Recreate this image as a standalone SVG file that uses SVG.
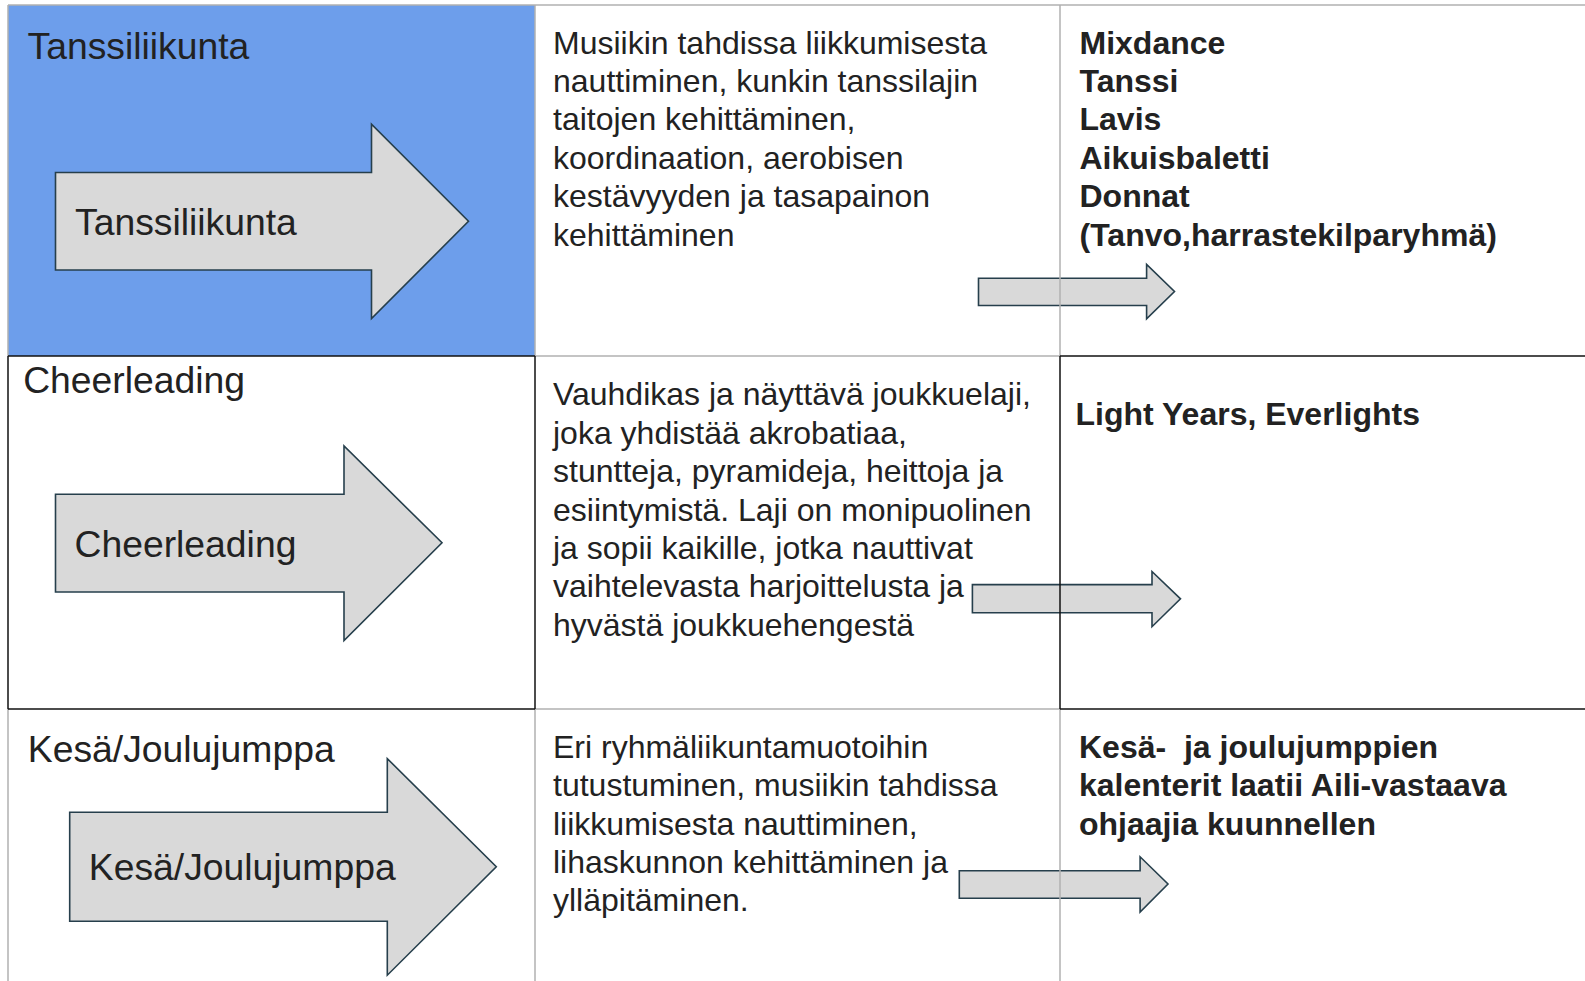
<svg xmlns="http://www.w3.org/2000/svg" width="1585" height="981" viewBox="0 0 1585 981">
<style>
  .txt { font-family: "Liberation Sans", Arial, sans-serif; font-size: 32px; fill: #222; }
  .bold { font-weight: bold; }
  .head { font-family: "Liberation Sans", Arial, sans-serif; font-size: 37.3px; fill: #222; }
  .arrow { fill: #d9d9d9; stroke: #263f4c; stroke-width: 1.6; stroke-linejoin: miter; }
  .gray { stroke: #b0b0b0; stroke-width: 1.5; fill: none; }
  .dark { stroke: #111; stroke-width: 1.5; fill: none; }
</style>
<rect width="1585" height="981" fill="#ffffff"/>
<rect x="8" y="5" width="527" height="351" fill="#6d9eeb"/>

<g id="small-arrows">
  <polygon id="sarrow1" class="arrow" points="978.5,278.3 1146.6,278.3 1146.6,264.5 1174.5,291.5 1146.6,318.8 1146.6,305.5 978.5,305.5"/>
  <polygon id="sarrow2" class="arrow" points="972.4,584.6 1152,584.6 1152,571.5 1180.5,598.8 1152,626.7 1152,612.8 972.4,612.8"/>
  <polygon id="sarrow3" class="arrow" points="959.3,870.8 1140.1,870.8 1140.1,856.8 1168,884 1140.1,912 1140.1,898.3 959.3,898.3"/>
</g>

<g id="connectors">
  <line class="gray" x1="8" y1="5" x2="1585" y2="5"/>
  <line class="gray" x1="8" y1="5" x2="8" y2="356"/>
  <line class="gray" x1="535" y1="5" x2="535" y2="356"/>
  <line class="gray" x1="1060" y1="5" x2="1060" y2="356"/>
  <line class="gray" x1="535" y1="356" x2="1060" y2="356"/>
  <line class="gray" x1="535" y1="709" x2="1060" y2="709"/>
  <line class="gray" x1="8" y1="709" x2="8" y2="981"/>
  <line class="gray" x1="535" y1="709" x2="535" y2="981"/>
  <line class="gray" x1="1060" y1="709" x2="1060" y2="981"/>
  <line class="dark" x1="8" y1="356" x2="535" y2="356"/>
  <line class="dark" x1="1060" y1="356" x2="1585" y2="356"/>
  <line class="dark" x1="8" y1="709" x2="535" y2="709"/>
  <line class="dark" x1="1060" y1="709" x2="1585" y2="709"/>
  <line class="dark" x1="8" y1="356" x2="8" y2="709"/>
  <line class="dark" x1="535" y1="356" x2="535" y2="709"/>
  <line class="dark" x1="1060" y1="356" x2="1060" y2="709"/>
</g>

<g id="row1-title">
  <text class="head" x="27.5" y="59">Tanssiliikunta</text>
</g>
<g id="row1-arrow">
  <polygon class="arrow" points="55.5,172.5 371.5,172.5 371.5,124.3 468.5,221.3 371.5,318.6 371.5,270 55.5,270"/>
  <text class="head" x="75" y="235">Tanssiliikunta</text>
</g>
<g id="row1-desc">
  <text class="txt" x="553">
    <tspan x="553" y="53.6">Musiikin tahdissa liikkumisesta</tspan>
    <tspan x="553" y="92">nauttiminen, kunkin tanssilajin</tspan>
    <tspan x="553" y="130.4">taitojen kehittäminen,</tspan>
    <tspan x="553" y="168.8">koordinaation, aerobisen</tspan>
    <tspan x="553" y="207.2">kestävyyden ja tasapainon</tspan>
    <tspan x="553" y="245.6">kehittäminen</tspan>
  </text>
</g>
<g id="row1-groups">
  <text class="txt bold" x="1079.5">
    <tspan x="1079.5" y="53.6">Mixdance</tspan>
    <tspan x="1079.5" y="92">Tanssi</tspan>
    <tspan x="1079.5" y="130.4">Lavis</tspan>
    <tspan x="1079.5" y="168.8">Aikuisbaletti</tspan>
    <tspan x="1079.5" y="207.2">Donnat</tspan>
    <tspan x="1079.5" y="245.6">(Tanvo,harrastekilparyhmä)</tspan>
  </text>
</g>

<g id="row2-title">
  <text class="head" x="23.2" y="392.5">Cheerleading</text>
</g>
<g id="row2-arrow">
  <polygon class="arrow" points="55.5,494.3 344,494.3 344,446 442,542.8 344,640.5 344,592 55.5,592"/>
  <text class="head" x="74.5" y="556.5">Cheerleading</text>
</g>
<g id="row2-desc">
  <text class="txt" x="553">
    <tspan x="553" y="405.3">Vauhdikas ja näyttävä joukkuelaji,</tspan>
    <tspan x="553" y="443.7">joka yhdistää akrobatiaa,</tspan>
    <tspan x="553" y="482.1">stuntteja, pyramideja, heittoja ja</tspan>
    <tspan x="553" y="520.5">esiintymistä. Laji on monipuolinen</tspan>
    <tspan x="553" y="558.9">ja sopii kaikille, jotka nauttivat</tspan>
    <tspan x="553" y="597.3">vaihtelevasta harjoittelusta ja</tspan>
    <tspan x="553" y="635.7">hyvästä joukkuehengestä</tspan>
  </text>
</g>
<g id="row2-groups">
  <text class="txt bold" x="1075.5" y="425.3">Light Years, Everlights</text>
</g>

<g id="row3-title">
  <text class="head" x="27.8" y="761.7">Kesä/Joulujumppa</text>
</g>
<g id="row3-arrow">
  <polygon class="arrow" points="69.7,812.3 387.3,812.3 387.3,758.6 496.3,866.8 387.3,975.2 387.3,921.3 69.7,921.3"/>
  <text class="head" x="88.8" y="880">Kesä/Joulujumppa</text>
</g>
<g id="row3-desc">
  <text class="txt" x="553">
    <tspan x="553" y="757.8">Eri ryhmäliikuntamuotoihin</tspan>
    <tspan x="553" y="796.2">tutustuminen, musiikin tahdissa</tspan>
    <tspan x="553" y="834.6">liikkumisesta nauttiminen,</tspan>
    <tspan x="553" y="873">lihaskunnon kehittäminen ja</tspan>
    <tspan x="553" y="911.4">ylläpitäminen.</tspan>
  </text>
</g>
<g id="row3-groups">
  <text class="txt bold" x="1079">
    <tspan x="1079" y="757.8">Kesä-&#160; ja joulujumppien</tspan>
    <tspan x="1079" y="796.2">kalenterit laatii Aili-vastaava</tspan>
    <tspan x="1079" y="834.6">ohjaajia kuunnellen</tspan>
  </text>
</g>
</svg>
